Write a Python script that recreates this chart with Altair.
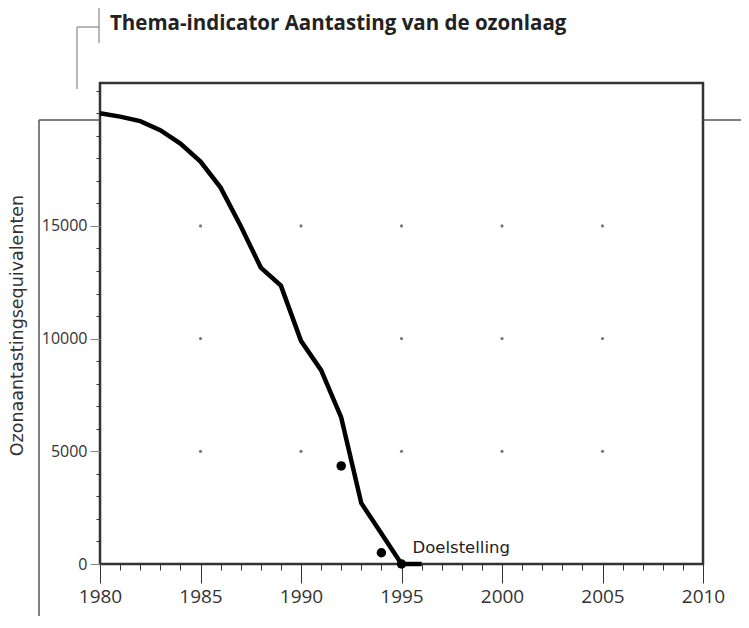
import altair as alt
import pandas as pd

# ---- data ----
years = list(range(1980, 1997))
emissions = [20000, 19850, 19650, 19250, 18650, 17850, 16700, 15000, 13150,
             12350, 9900, 8600, 6500, 2700, 1350, 0, 0]
obs_years = [1992, 1994, 1995]
obs_values = [4350, 500, 0]
grid_years = [1985, 1990, 1995, 2000, 2005]
grid_values = [5000, 10000, 15000]
x_ticks = list(range(1980, 2011))
y_ticks = list(range(0, 21001, 1000))
target_label = ["Doelstelling"]
target_year = [1995]
target_value = [0]
title_text = ["Thema-indicator Aantasting van de ozonlaag"]
y_title = "Ozonaantastingsequivalenten"

line_df = pd.DataFrame({"year": years, "value": emissions})
obs_df = pd.DataFrame({"year": obs_years, "value": obs_values})
grid_df = pd.DataFrame([{"year": y, "value": v} for y in grid_years for v in grid_values])
text_df = pd.DataFrame({"year": target_year, "value": target_value, "label": target_label})
title_df = pd.DataFrame({"t": title_text})

major_y = "datum.value % 5000 === 0 && datum.value < 20000"

X = alt.X(
    "year:Q",
    scale=alt.Scale(domain=[1980, 2010], nice=False, zero=False),
    axis=alt.Axis(
        values=x_ticks,
        format="d",
        labelExpr="datum.value % 5 === 0 ? datum.label : ''",
        tickSize={"condition": {"test": "datum.value % 5 === 0", "value": 19}, "value": 6},
        tickColor="#333",
        tickWidth=1,
        domain=False,
        grid=False,
        labelFlush=False,
        labelOverlap=False,
        labelFont="Open Sans",
        labelFontSize=19,
        labelColor="#333",
        labelPadding=4,
        title=None,
    ),
)
Y = alt.Y(
    "value:Q",
    scale=alt.Scale(domain=[0, 21340], nice=False),
    axis=alt.Axis(
        values=y_ticks,
        format="d",
        labelExpr=major_y + " ? datum.label : ''",
        tickSize={"condition": {"test": major_y, "value": 10}, "value": 4},
        tickColor={"condition": {"test": major_y, "value": "#888"}, "value": "#333"},
        tickWidth=1,
        domain=False,
        grid=False,
        labelOverlap=False,
        labelFont="Open Sans",
        labelFontSize=16,
        labelColor="#333",
        labelPadding=3,
        title=y_title,
        titleFont="DejaVu Sans",
        titleFontSize=17.5,
        titleFontWeight="normal",
        titleColor="#333",
        titleX=-83,
        titleY=242,
        titleBaseline="middle",
        titleAlign="center",
        titleAngle=270,
    ),
)

grid = alt.Chart(grid_df).mark_circle(size=10, color="#777", opacity=1).encode(x=X, y=Y)
line = alt.Chart(line_df).mark_line(color="black", strokeWidth=4.5).encode(x=X, y=Y)
points = alt.Chart(obs_df).mark_circle(size=90, color="black", opacity=1).encode(x=X, y=Y)
label = alt.Chart(text_df).mark_text(
    align="left", baseline="alphabetic", dx=11, dy=-11,
    font="DejaVu Sans", fontSize=16.5, color="#222"
).encode(x=X, y=Y, text="label:N")

heading = alt.Chart(title_df).mark_text(
    align="left", baseline="alphabetic", font="Open Sans", fontSize=20.5,
    fontWeight="bold", color="#222"
).encode(x=alt.value(10), y=alt.value(-53), text="t:N")


def rule(x1, x2, y1, y2, color, width):
    return alt.Chart(pd.DataFrame({"k": [0]})).mark_rule(
        color=color, strokeWidth=width
    ).encode(x=alt.value(x1), x2=alt.value(x2), y=alt.value(y1), y2=alt.value(y2))


decor = [
    rule(-1, -1, -76, -40, "#888", 1.2),
    rule(-23, -1, -56, -56, "#888", 1.2),
    rule(-23, -23, -56, 6, "#888", 1.2),
    rule(-61, 0, 37, 37, "#555", 1.5),
    rule(-61, -61, 37, 600, "#555", 1.5),
    rule(603, 700, 37, 37, "#555", 1.5),
]

chart = alt.layer(grid, line, points, label, heading, *decor).properties(
    width=603,
    height=481,
    autosize=alt.AutoSizeParams(type="none"),
    padding={"left": 92, "top": 75, "right": 38, "bottom": 52},
).configure_view(stroke="#333", strokeWidth=2.5)

chart.save("out.html", embed_options={"renderer": "svg", "actions": False})
